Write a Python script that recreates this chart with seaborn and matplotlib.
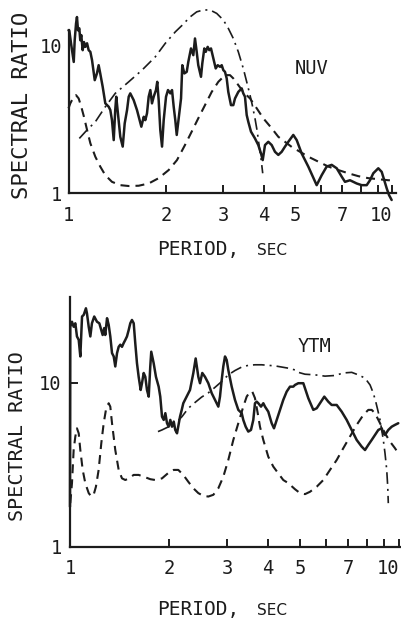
import matplotlib
matplotlib.use("Agg")
import matplotlib.pyplot as plt
import pandas as pd
import seaborn as sns

# ---------------- data (period in sec, spectral ratio) ----------------
nuv_observed = [
    (1.0, 12.6), (1.006, 12.5), (1.018, 10.3), (1.038, 7.7), (1.045, 10.8), (1.055, 14.0),
    (1.062, 15.5), (1.070, 12.6), (1.080, 13.0), (1.087, 10.8), (1.095, 11.7), (1.106, 9.25),
    (1.116, 10.5), (1.127, 9.74), (1.141, 10.3), (1.154, 9.25), (1.168, 9.01), (1.182, 7.92),
    (1.205, 5.80), (1.224, 6.44), (1.239, 7.32), (1.253, 6.44), (1.275, 5.23), (1.299, 4.04),
    (1.331, 3.83), (1.346, 3.64), (1.362, 3.11), (1.379, 2.28), (1.394, 3.64), (1.404, 4.48),
    (1.428, 3.11), (1.445, 2.40), (1.470, 2.06), (1.491, 2.96), (1.516, 3.64), (1.534, 4.48),
    (1.551, 4.72), (1.570, 4.48), (1.589, 4.25), (1.627, 3.64), (1.647, 3.28), (1.678, 2.81),
    (1.707, 3.28), (1.726, 3.11), (1.747, 3.46), (1.768, 4.48), (1.789, 4.97), (1.810, 4.04),
    (1.832, 4.48), (1.862, 4.97), (1.879, 5.65), (1.898, 4.25), (1.920, 2.67), (1.944, 2.06),
    (1.967, 3.11), (2.000, 4.48), (2.028, 4.97), (2.062, 4.72), (2.087, 4.97), (2.112, 3.83),
    (2.136, 3.11), (2.158, 2.47), (2.225, 4.36), (2.245, 7.32), (2.278, 6.44), (2.317, 6.60),
    (2.343, 7.71), (2.388, 9.50), (2.428, 8.56), (2.457, 11.1), (2.487, 9.01), (2.515, 7.32),
    (2.564, 6.11), (2.588, 7.52), (2.625, 9.50), (2.652, 9.01), (2.689, 9.74), (2.720, 9.25),
    (2.753, 9.50), (2.799, 8.13), (2.847, 6.96), (2.888, 7.32), (2.936, 7.14), (2.971, 7.32),
    (3.005, 6.78), (3.041, 6.60), (3.078, 5.96), (3.113, 4.83), (3.173, 3.93), (3.226, 3.93),
    (3.265, 4.36), (3.343, 4.83), (3.424, 5.10), (3.463, 4.72), (3.505, 4.48), (3.548, 3.37),
    (3.589, 3.03), (3.658, 2.60), (3.763, 2.34), (3.853, 2.11), (3.928, 1.85), (3.976, 1.67),
    (4.041, 2.11), (4.137, 2.22), (4.238, 2.11), (4.338, 1.90), (4.442, 1.81), (4.550, 1.90),
    (4.658, 2.06), (4.769, 2.22), (4.941, 2.47), (5.062, 2.28), (5.245, 1.85), (5.496, 1.51),
    (5.834, 1.13), (6.046, 1.32), (6.265, 1.51), (6.492, 1.55), (6.727, 1.47), (6.970, 1.29),
    (7.135, 1.19), (7.393, 1.22), (7.568, 1.19), (7.753, 1.16), (8.033, 1.13), (8.325, 1.13),
    (8.522, 1.22), (8.725, 1.36), (9.040, 1.47), (9.262, 1.39), (9.434, 1.22), (9.596, 1.076),
    (9.755, 0.969), (9.940, 0.897),
]
nuv_dashed = [
    (1.0, 3.74), (1.013, 4.04), (1.038, 4.48), (1.055, 4.59), (1.075, 4.36), (1.095, 3.83),
    (1.116, 3.28), (1.141, 2.67), (1.168, 2.17), (1.210, 1.76), (1.253, 1.51), (1.299, 1.32),
    (1.362, 1.19), (1.445, 1.13), (1.534, 1.115), (1.647, 1.12), (1.768, 1.16), (1.898, 1.26),
    (2.038, 1.43), (2.162, 1.67), (2.288, 2.11), (2.400, 2.60), (2.515, 3.20), (2.638, 3.93),
    (2.767, 4.83), (2.900, 5.65), (3.041, 6.27), (3.151, 6.27), (3.226, 5.96), (3.343, 5.37),
    (3.463, 4.83), (3.633, 4.36), (3.810, 3.74), (3.993, 3.20), (4.238, 2.74), (4.442, 2.40),
    (4.658, 2.22), (4.885, 2.05), (5.183, 1.90), (5.496, 1.76), (5.902, 1.63), (6.337, 1.51),
    (6.804, 1.43), (7.303, 1.36), (7.843, 1.30), (8.421, 1.26), (9.040, 1.24), (9.705, 1.22),
    (10.18, 1.22),
]
nuv_dashdot = [
    (1.080, 2.34), (1.141, 2.67), (1.210, 3.03), (1.299, 3.83), (1.394, 4.72), (1.534, 5.65),
    (1.686, 6.78), (1.853, 8.34), (1.990, 10.3), (2.136, 12.3), (2.240, 13.6), (2.371, 15.5),
    (2.487, 16.8), (2.606, 17.3), (2.734, 17.3), (2.867, 16.4), (3.005, 14.8), (3.113, 13.0),
    (3.226, 11.1), (3.343, 9.01), (3.463, 6.96), (3.548, 5.65), (3.633, 4.59), (3.692, 3.93),
    (3.763, 3.20), (3.825, 2.60), (3.873, 2.11), (3.928, 1.71), (3.976, 1.36),
]

ytm_observed = [
    (1.0, 1.76), (1.002, 22.0), (1.014, 23.6), (1.026, 22.0), (1.038, 23.1), (1.050, 19.2),
    (1.063, 18.3), (1.075, 14.5), (1.088, 25.4), (1.101, 26.0), (1.118, 28.5), (1.126, 26.6),
    (1.140, 22.0), (1.153, 19.2), (1.166, 23.1), (1.185, 25.4), (1.208, 23.6), (1.228, 23.1),
    (1.245, 21.0), (1.257, 19.6), (1.271, 21.6), (1.280, 19.6), (1.296, 24.8), (1.311, 22.6),
    (1.326, 19.2), (1.342, 15.2), (1.358, 14.5), (1.373, 12.6), (1.390, 15.2), (1.406, 16.6),
    (1.422, 17.1), (1.439, 16.6), (1.456, 17.5), (1.473, 18.3), (1.490, 19.2), (1.508, 21.0),
    (1.525, 23.1), (1.543, 24.2), (1.562, 23.1), (1.579, 17.5), (1.598, 13.2), (1.617, 10.9),
    (1.640, 9.06), (1.655, 9.96), (1.675, 11.5), (1.694, 10.9), (1.714, 9.06), (1.735, 8.25),
    (1.754, 12.6), (1.766, 15.5), (1.796, 13.2), (1.825, 10.9), (1.860, 9.49), (1.881, 8.25),
    (1.904, 6.23), (1.927, 5.95), (1.949, 6.54), (1.972, 5.68), (1.995, 5.41), (2.018, 5.95),
    (2.042, 5.41), (2.067, 5.81), (2.089, 5.17), (2.115, 4.93), (2.160, 6.23), (2.186, 6.85),
    (2.210, 7.52), (2.263, 8.25), (2.316, 9.06), (2.371, 11.5), (2.410, 14.1), (2.455, 10.9),
    (2.484, 9.96), (2.524, 11.5), (2.572, 10.9), (2.633, 9.96), (2.696, 8.66), (2.759, 7.88),
    (2.824, 7.17), (2.857, 8.25), (2.891, 10.4), (2.924, 12.6), (2.959, 14.5), (2.994, 13.8),
    (3.028, 12.0), (3.101, 9.49), (3.173, 7.88), (3.248, 6.85), (3.326, 6.54), (3.363, 5.95),
    (3.420, 5.41), (3.483, 5.05), (3.549, 5.17), (3.607, 5.95), (3.650, 7.52), (3.694, 7.69),
    (3.736, 7.52), (3.807, 7.17), (3.869, 7.52), (3.915, 7.17), (4.006, 6.68), (4.102, 5.68),
    (4.169, 5.29), (4.249, 5.95), (4.347, 6.85), (4.449, 7.88), (4.556, 8.85), (4.663, 9.49),
    (4.772, 9.49), (4.829, 9.72), (4.943, 9.96), (5.119, 9.96), (5.301, 8.07), (5.490, 6.85),
    (5.622, 7.01), (5.754, 7.52), (5.929, 8.25), (6.096, 7.69), (6.243, 7.34), (6.466, 7.34),
    (6.697, 6.68), (6.934, 5.95), (7.182, 5.17), (7.437, 4.49), (7.702, 4.09), (7.883, 3.90),
    (8.067, 4.19), (8.260, 4.49), (8.453, 4.82), (8.653, 5.17), (8.861, 5.29), (8.961, 4.93),
    (9.067, 4.82), (9.279, 5.17), (9.502, 5.41), (9.723, 5.55), (9.950, 5.68),
]
ytm_dashed = [
    (1.002, 1.85), (1.014, 2.45), (1.026, 3.90), (1.038, 4.71), (1.050, 5.29), (1.063, 4.93),
    (1.075, 3.90), (1.093, 2.95), (1.113, 2.45), (1.140, 2.13), (1.161, 2.03), (1.180, 2.08),
    (1.199, 2.33), (1.222, 2.95), (1.245, 4.29), (1.266, 5.68), (1.286, 6.85), (1.311, 7.52),
    (1.326, 7.17), (1.342, 5.68), (1.373, 3.90), (1.406, 2.95), (1.439, 2.62), (1.473, 2.56),
    (1.508, 2.62), (1.562, 2.75), (1.617, 2.75), (1.694, 2.66), (1.754, 2.59), (1.816, 2.56),
    (1.904, 2.62), (1.995, 2.84), (2.067, 2.95), (2.134, 2.95), (2.210, 2.75), (2.288, 2.50),
    (2.371, 2.28), (2.455, 2.13), (2.542, 2.05), (2.633, 2.03), (2.727, 2.08), (2.824, 2.28),
    (2.924, 2.68), (3.028, 3.39), (3.136, 4.49), (3.248, 5.68), (3.363, 7.17), (3.444, 8.25),
    (3.525, 8.85), (3.582, 8.85), (3.650, 8.07), (3.720, 6.54), (3.780, 5.41), (3.869, 4.49),
    (4.006, 3.55), (4.149, 3.09), (4.297, 2.81), (4.449, 2.56), (4.608, 2.45), (4.829, 2.25),
    (5.002, 2.13), (5.180, 2.10), (5.363, 2.17), (5.622, 2.33), (5.888, 2.56), (6.170, 2.95),
    (6.466, 3.39), (6.771, 4.00), (7.096, 4.71), (7.437, 5.55), (7.791, 6.38), (8.067, 6.85),
    (8.260, 6.85), (8.453, 6.54), (8.757, 5.68), (9.067, 4.93), (9.390, 4.39), (9.723, 4.00),
    (9.950, 3.73),
]
ytm_dashdot = [
    (1.851, 5.05), (1.904, 5.17), (1.995, 5.41), (2.115, 5.81), (2.190, 6.23), (2.288, 7.0),
    (2.399, 7.6), (2.513, 8.2), (2.633, 8.7), (2.759, 9.4), (2.891, 10.2), (3.028, 11.2),
    (3.173, 11.9), (3.326, 12.5), (3.483, 12.8), (3.650, 12.9), (3.825, 12.9), (4.006, 12.8),
    (4.199, 12.7), (4.399, 12.5), (4.608, 12.3), (4.829, 12.0), (4.943, 11.6), (5.180, 11.3),
    (5.555, 11.2), (5.958, 11.0), (6.391, 11.1), (6.771, 11.5), (7.182, 11.6), (7.520, 11.2),
    (7.883, 10.7), (8.167, 9.72), (8.355, 8.66), (8.497, 7.69), (8.617, 6.85), (8.757, 5.95),
    (8.861, 5.17), (8.961, 4.49), (9.067, 3.73), (9.177, 2.95), (9.242, 2.33), (9.279, 1.85),
]

x_ticks = [1, 2, 3, 4, 5, 6, 7, 8, 9, 10]
x_tick_labels = ["1", "2", "3", "4", "5", "", "7", "", "", "10"]
y_ticks = [1, 10]
y_tick_labels = ["1", "10"]
station_names = ["NUV", "YTM"]

# ---------------- style ----------------
sns.set_style("ticks")
plt.rcParams["font.family"] = ["DejaVu Sans Mono", "DejaVu Sans"]
INK = "#1c1c1c"

fig = plt.figure(figsize=(4.02, 6.22), dpi=100)
ax1 = fig.add_axes([0.1704, 0.6897, 0.8146, 0.3023])
ax2 = fig.add_axes([0.1741, 0.1206, 0.8202, 0.4019])


def draw(ax, pts, lw, ls):
    df = pd.DataFrame(pts, columns=["period", "ratio"])
    sns.lineplot(data=df, x="period", y="ratio", ax=ax, color=INK, linewidth=lw,
                 linestyle=ls, estimator=None, sort=False, clip_on=False)


def setup(ax, xlim, ylim, ytop, ytick_len, ypad):
    ax.set_xscale("log")
    ax.set_yscale("log")
    ax.set_xlim(*xlim)
    ax.set_ylim(*ylim)
    sns.despine(ax=ax)
    for s in ("left", "bottom"):
        ax.spines[s].set_linewidth(1.6)
        ax.spines[s].set_color(INK)
    ax.spines["left"].set_bounds(1, ytop)
    ax.set_xticks(x_ticks)
    ax.set_xticklabels(x_tick_labels)
    ax.set_yticks(y_ticks)
    ax.set_yticklabels(y_tick_labels)
    ax.minorticks_off()
    ax.tick_params(axis="x", direction="in", length=5.5, width=1.4, pad=9,
                   labelsize=13.5, colors=INK)
    ax.tick_params(axis="y", direction="in", length=ytick_len, width=1.4, pad=ypad,
                   labelsize=13.5, colors=INK)
    ax.set_xlabel("")
    ax.set_ylabel("")
    ax.patch.set_alpha(0)


setup(ax1, (1, 10.25), (1, 18.7), 12.6, 0, 4.5)
setup(ax2, (1, 10.05), (1, 33.4), 33.4, 6, 6)

draw(ax1, nuv_dashed, 1.5, (0, (4.3, 2.9)))
draw(ax1, nuv_dashdot, 1.2, (0, (7.0, 3.0, 1.2, 3.0)))
draw(ax1, nuv_observed, 1.8, "-")
draw(ax2, ytm_dashed, 1.5, (0, (4.3, 2.9)))
draw(ax2, ytm_dashdot, 1.2, (0, (7.0, 3.0, 1.2, 3.0)))
draw(ax2, ytm_observed, 1.8, "-")
for ax in (ax1, ax2):
    ax.set_xlabel("")
    ax.set_ylabel("")
    # the "10" period label sits just left of its tick, as in the reference
    ax.get_xticklabels()[-1].set_horizontalalignment("right")

# ---------------- text ----------------
fig.text(22 / 402, 1 - 105 / 622, "SPECTRAL RATIO", rotation=90, ha="center",
         va="center", fontsize=16, color=INK)
fig.text(18 / 402, 1 - 436 / 622, "SPECTRAL RATIO", rotation=90, ha="center",
         va="center", fontsize=14.5, color=INK)
for base in (255, 615):
    fig.text(157 / 402, 1 - base / 622, "PERIOD,", ha="left", va="baseline",
             fontsize=14, color=INK)
    fig.text(257 / 402, 1 - base / 622, "SEC", ha="left", va="baseline",
             fontsize=11, color=INK, family=["DejaVu Sans"])
fig.text(312 / 402, 1 - 68 / 622, station_names[0], ha="center", va="center",
         fontsize=13.5, color=INK)
fig.text(314 / 402, 1 - 347 / 622, station_names[1], ha="center", va="center",
         fontsize=13.5, color=INK)

fig.savefig("out.png", dpi=100)
